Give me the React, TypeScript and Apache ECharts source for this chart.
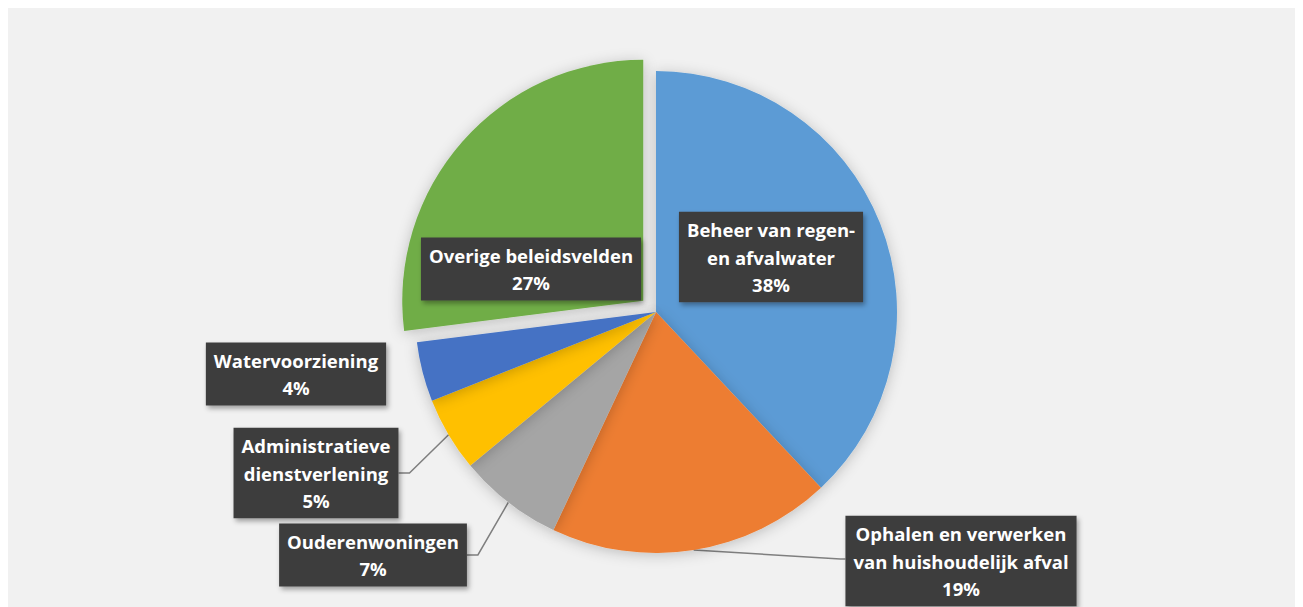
import React, { useEffect, useRef } from "react";
import * as echarts from "echarts";

const categories = [
  "Beheer van regen- en afvalwater",
  "Ophalen en verwerken van huishoudelijk afval",
  "Ouderenwoningen",
  "Administratieve dienstverlening",
  "Watervoorziening",
  "Overige beleidsvelden",
];
const labelTexts = [
  "Beheer van regen-\nen afvalwater",
  "Ophalen en verwerken\nvan huishoudelijk afval",
  "Ouderenwoningen",
  "Administratieve\ndienstverlening",
  "Watervoorziening",
  "Overige beleidsvelden",
];
const shares = [38, 19, 7, 5, 4, 27];
const colors = ["#5B9BD5", "#ED7D31", "#A5A5A5", "#FFC000", "#4472C4", "#70AD47"];
const explodedIndex = 5;

// label box centres (px inside the chart) and which side the leader line attaches
const labelCenters: [number, number][] = [
  [765, 249],
  [955, 553],
  [367, 547],
  [310, 465],
  [290, 366],
  [525, 261],
];
const leaderSide = ["none", "left", "right", "right", "none", "none"];

const CX = 650;
const CY = 304;
const R = 241;
const EXPLODE = 17;

export default function App() {
  const ref = useRef<HTMLDivElement>(null);
  useEffect(() => {
    if (!ref.current) return;
    const chart = echarts.init(ref.current, undefined, { renderer: "svg" });

    const total = shares.reduce((a, b) => a + b, 0);
    const before = shares.slice(0, explodedIndex).reduce((a, b) => a + b, 0);
    const midFrac = (before + shares[explodedIndex] / 2) / total;
    const midAng = midFrac * 2 * Math.PI; // clockwise from 12 o'clock
    const ex = EXPLODE * Math.sin(midAng);
    const ey = -EXPLODE * Math.cos(midAng);

    const labelBase = {
      show: true,
      position: "outside",
      formatter: (p: any) => `${labelTexts[p.dataIndex]}\n${p.value}%`,
      color: "#ffffff",
      fontFamily: "Open Sans",
      fontWeight: "bold",
      fontSize: 18.5,
      lineHeight: 27.5,
      align: "center",
      backgroundColor: "#3d3d3d",
      padding: [4, 8],
      shadowBlur: 5,
      shadowColor: "rgba(0,0,0,0.35)",
      shadowOffsetX: 2,
      shadowOffsetY: 3,
    };

    const makeLayout = () => (p: any) => {
      const i = p.dataIndex;
      const [x, y] = labelCenters[i];
      const w = p.labelRect.width;
      const res: any = { x, y, align: "center", verticalAlign: "middle" };
      const side = leaderSide[i];
      if (side !== "none" && p.labelLinePoints && p.labelLinePoints.length) {
        const start = p.labelLinePoints[0];
        if (side === "right") {
          const bx = x + w / 2;
          res.labelLinePoints = [start, [bx + 11, y], [bx, y]];
        } else {
          const bx = x - w / 2;
          res.labelLinePoints = [start, [bx - 5, y - 2], [bx, y - 2]];
        }
      }
      return res;
    };

    const common = {
      type: "pie",
      radius: R,
      startAngle: 90,
      clockwise: true,
      avoidLabelOverlap: false,
      silent: true,
      emphasis: { disabled: true },
      itemStyle: {
        borderWidth: 0,
        shadowBlur: 14,
        shadowColor: "rgba(0,0,0,0.22)",
        shadowOffsetY: 2,
      },
      label: labelBase,
      labelLine: {
        show: true,
        length: 10,
        length2: 10,
        lineStyle: { color: "#7f7f7f", width: 1.5 },
      },
    };

    // main pie: every slice except the exploded one
    const mainData = shares.map((v, i) => {
      const hidden = i === explodedIndex;
      return {
        name: categories[i],
        value: v,
        itemStyle: hidden
          ? { color: "rgba(0,0,0,0)", opacity: 0, shadowBlur: 0 }
          : { color: colors[i] },
        label: { show: !hidden },
        labelLine: { show: !hidden && leaderSide[i] !== "none" },
      };
    });
    // exploded pie: only the exploded slice, shifted along its mid angle
    const explodedData = shares.map((v, i) => {
      const shown = i === explodedIndex;
      return {
        name: categories[i],
        value: v,
        itemStyle: shown
          ? { color: colors[i] }
          : { color: "rgba(0,0,0,0)", opacity: 0, shadowBlur: 0 },
        label: { show: shown },
        labelLine: { show: false },
      };
    });

    chart.setOption({
      animation: false,
      backgroundColor: "#f1f1f1",
      series: [
        {
          ...common,
          name: "exploded",
          center: [CX + ex, CY + ey],
          labelLayout: makeLayout(),
          data: explodedData,
          z: 1,
        },
        {
          ...common,
          name: "main",
          center: [CX, CY],
          labelLayout: makeLayout(),
          data: mainData,
          z: 2,
        },
      ],
    });
    return () => chart.dispose();
  }, []);
  return (
    <div
      ref={ref}
      style={{ width: 1297, height: 599, marginLeft: -2, background: "#f1f1f1" }}
    />
  );
}
